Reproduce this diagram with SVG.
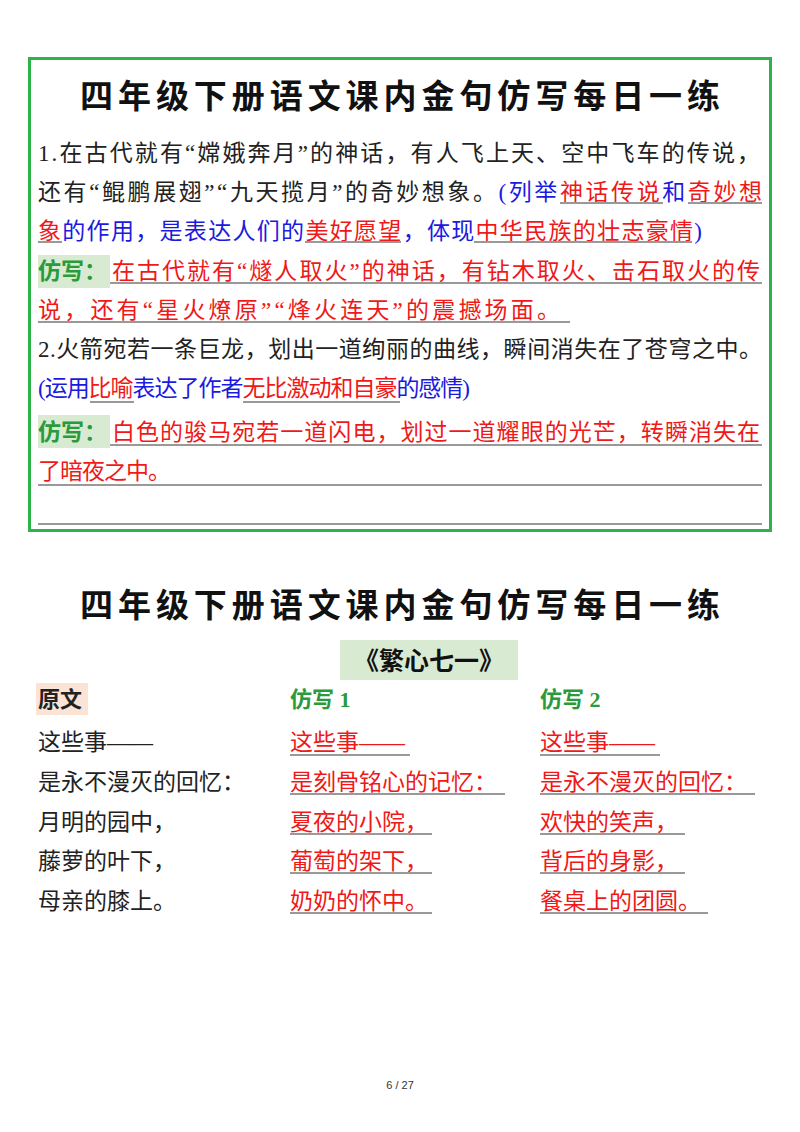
<svg xmlns="http://www.w3.org/2000/svg" width="800" height="1132" viewBox="0 0 800 1132">
<style>
text{font-family:"Liberation Serif","Noto Sans CJK SC",serif;font-size:23px;fill:#222}
.t{font-family:"Noto Sans CJK SC",sans-serif;font-weight:bold;font-size:33px;fill:#111}
.r{fill:#f01818}.b{fill:#1a1ae0}.g{fill:#2a9a3a;font-weight:bold}
.u{stroke:#999;stroke-width:2}
.f{font-family:"Liberation Sans",sans-serif;font-size:11px;fill:#333}
</style>
<rect width="800" height="1132" fill="#fff"/>
<g id="card1">
<rect x="29.5" y="58.5" width="741" height="472" fill="none" stroke="#2db34a" stroke-width="3"/>
<text class="t" x="400" y="108" text-anchor="middle" textLength="640">四年级下册语文课内金句仿写每日一练</text>
<text x="38" y="161" textLength="722">1.在古代就有“嫦娥奔月”的神话，有人飞上天、空中飞车的传说，</text>
<text x="38" y="200" textLength="724">还有“鲲鹏展翅”“九天揽月”的奇妙想象。<tspan class="b">(列举</tspan><tspan class="r">神话传说</tspan><tspan class="b">和</tspan><tspan class="r">奇妙想</tspan></text>
<text x="38" y="239" textLength="664"><tspan class="r">象</tspan><tspan class="b">的作用，是表达人们的</tspan><tspan class="r">美好愿望</tspan><tspan class="b">，体现</tspan><tspan class="r">中华民族的壮志豪情</tspan><tspan class="b">)</tspan></text>
<rect x="38" y="255" width="72" height="33" fill="#d9ead3"/>
<text x="38" y="279" class="g">仿写：</text>
<text x="112" y="279" class="r" textLength="648">在古代就有“燧人取火”的神话，有钻木取火、击石取火的传</text>
<text x="38" y="318" class="r" textLength="522">说，还有“星火燎原”“烽火连天”的震撼场面。</text>
<text x="38" y="357" textLength="724">2.火箭宛若一条巨龙，划出一道绚丽的曲线，瞬间消失在了苍穹之中。</text>
<text x="38" y="396" textLength="432"><tspan class="b">(运用</tspan><tspan class="r">比喻</tspan><tspan class="b">表达了作者</tspan><tspan class="r">无比激动和自豪</tspan><tspan class="b">的感情)</tspan></text>
<rect x="38" y="415" width="72" height="33" fill="#d9ead3"/>
<text x="38" y="440" class="g">仿写：</text>
<text x="112" y="440" class="r" textLength="648">白色的骏马宛若一道闪电，划过一道耀眼的光芒，转瞬消失在</text>
<text x="38" y="479" class="r" textLength="133">了暗夜之中。</text>
<g class="u">
<line x1="560" y1="203" x2="663" y2="203"/><line x1="688" y1="203" x2="762" y2="203"/>
<line x1="38" y1="242" x2="62" y2="242"/><line x1="305" y1="242" x2="401" y2="242"/><line x1="474" y1="242" x2="692" y2="242"/>
<line x1="110" y1="283" x2="762" y2="283"/><line x1="38" y1="322" x2="570" y2="322"/>
<line x1="90" y1="402" x2="134" y2="402"/><line x1="243" y1="402" x2="400" y2="402"/>
<line x1="110" y1="445" x2="762" y2="445"/><line x1="38" y1="485" x2="762" y2="485"/><line x1="38" y1="524" x2="762" y2="524"/>
</g>
</g>
<g id="card2">
<text class="t" x="400" y="617" text-anchor="middle" textLength="640">四年级下册语文课内金句仿写每日一练</text>
<rect x="340" y="640" width="178" height="40" fill="#d9ead3"/>
<text class="t" x="429" y="670" text-anchor="middle" style="font-size:25px">《繁心七一》</text>
<rect x="36" y="683" width="52" height="32" fill="#fbe3d6"/>
<text x="38" y="707" style="font-weight:bold;font-family:'Noto Sans CJK SC',sans-serif;font-size:22px">原文</text>
<text x="290" y="707" class="g" style="font-size:22px">仿写 1</text>
<text x="540" y="707" class="g" style="font-size:22px">仿写 2</text>
<text x="38" y="750">这些事——</text>
<text x="38" y="790">是永不漫灭的回忆：</text>
<text x="38" y="830">月明的园中，</text>
<text x="38" y="869">藤萝的叶下，</text>
<text x="38" y="909">母亲的膝上。</text>
<text x="290" y="750" class="r">这些事——</text>
<text x="290" y="790" class="r">是刻骨铭心的记忆：</text>
<text x="290" y="830" class="r">夏夜的小院，</text>
<text x="290" y="869" class="r">葡萄的架下，</text>
<text x="290" y="909" class="r">奶奶的怀中。</text>
<text x="540" y="750" class="r">这些事——</text>
<text x="540" y="790" class="r">是永不漫灭的回忆：</text>
<text x="540" y="830" class="r">欢快的笑声，</text>
<text x="540" y="869" class="r">背后的身影，</text>
<text x="540" y="909" class="r">餐桌上的团圆。</text>
<g class="u">
<line x1="290" y1="755" x2="410" y2="755"/><line x1="290" y1="794" x2="505" y2="794"/><line x1="290" y1="834" x2="432" y2="834"/><line x1="290" y1="873" x2="432" y2="873"/><line x1="290" y1="913" x2="432" y2="913"/>
<line x1="540" y1="755" x2="660" y2="755"/><line x1="540" y1="794" x2="755" y2="794"/><line x1="540" y1="834" x2="685" y2="834"/><line x1="540" y1="873" x2="685" y2="873"/><line x1="540" y1="913" x2="708" y2="913"/>
</g>
</g>
<text class="f" x="400" y="1089" text-anchor="middle">6 / 27</text>
</svg>
